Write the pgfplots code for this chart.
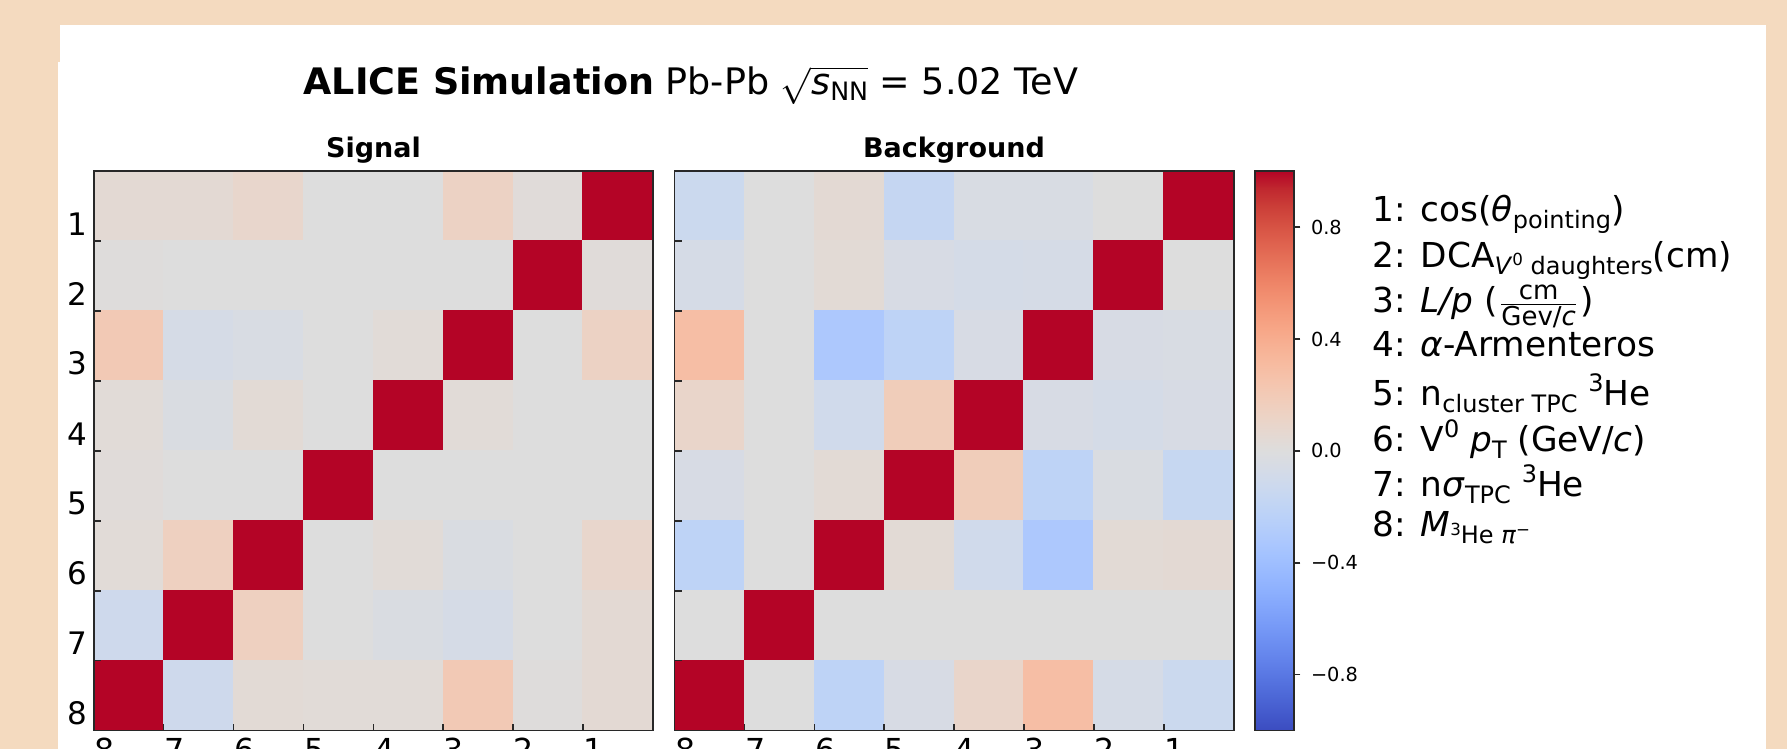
\documentclass[border=0pt]{standalone}
\usepackage{fontspec}
\setmainfont{DejaVu Sans}
\usepackage{pgfplots}
\pgfplotsset{compat=1.18}
\usepackage{pgfplotstable}
\definecolor{peach}{RGB}{244,218,191}
\definecolor{frame}{RGB}{40,40,40}
\pgfplotsset{colormap={coolwarm}{
rgb255(0cm)=(59,76,192) rgb255(1cm)=(68,90,204) rgb255(2cm)=(77,104,215) rgb255(3cm)=(87,117,225)
rgb255(4cm)=(98,130,234) rgb255(5cm)=(108,142,241) rgb255(6cm)=(119,154,247) rgb255(7cm)=(130,165,251)
rgb255(8cm)=(141,176,254) rgb255(9cm)=(152,185,255) rgb255(10cm)=(163,194,255) rgb255(11cm)=(174,201,253)
rgb255(12cm)=(184,208,249) rgb255(13cm)=(194,213,244) rgb255(14cm)=(204,217,238) rgb255(15cm)=(213,219,230)
rgb255(16cm)=(221,221,221) rgb255(17cm)=(229,216,209) rgb255(18cm)=(236,211,197) rgb255(19cm)=(241,204,185)
rgb255(20cm)=(245,196,173) rgb255(21cm)=(247,187,160) rgb255(22cm)=(247,177,148) rgb255(23cm)=(247,166,135)
rgb255(24cm)=(244,154,123) rgb255(25cm)=(241,141,111) rgb255(26cm)=(236,127,99) rgb255(27cm)=(229,112,88)
rgb255(28cm)=(222,96,77) rgb255(29cm)=(213,80,66) rgb255(30cm)=(203,62,56) rgb255(31cm)=(192,40,47)
rgb255(32cm)=(180,4,38)}}

% x = column index (0 -> label 8, 7 -> label 1), y = row index (0 -> row 1)
\pgfplotstableread{
x y c
0 0 0.05
1 0 0.05
2 0 0.09
3 0 0.00
4 0 0.00
5 0 0.13
6 0 0.02
7 0 1
0 1 0.01
1 1 0.00
2 1 0.00
3 1 0.00
4 1 0.00
5 1 0.00
6 1 1
7 1 0.02
0 2 0.21
1 2 -0.06
2 2 -0.04
3 2 0.00
4 2 0.03
5 2 1
6 2 0.00
7 2 0.13
0 3 0.03
1 3 -0.03
2 3 0.04
3 3 0.00
4 3 1
5 3 0.03
6 3 0.00
7 3 0.00
0 4 0.02
1 4 0.00
2 4 0.00
3 4 1
4 4 0.00
5 4 0.00
6 4 0.00
7 4 0.00
0 5 0.03
1 5 0.15
2 5 1
3 5 0.00
4 5 0.03
5 5 -0.03
6 5 0.00
7 5 0.09
0 6 -0.11
1 6 1
2 6 0.15
3 6 0.00
4 6 -0.03
5 6 -0.06
6 6 0.00
7 6 0.05
0 7 1
1 7 -0.11
2 7 0.04
3 7 0.03
4 7 0.03
5 7 0.21
6 7 0.01
7 7 0.05
}\sigtab

\pgfplotstableread{
x y c
0 0 -0.13
1 0 0.00
2 0 0.05
3 0 -0.17
4 0 -0.04
5 0 -0.04
6 0 0.00
7 0 1
0 1 -0.06
1 1 0.00
2 1 0.04
3 1 -0.05
4 1 -0.07
5 1 -0.06
6 1 1
7 1 0.00
0 2 0.29
1 2 0.00
2 2 -0.32
3 2 -0.21
4 2 -0.05
5 2 1
6 2 -0.05
7 2 -0.04
0 3 0.10
1 3 0.00
2 3 -0.10
3 3 0.18
4 3 1
5 3 -0.05
6 3 -0.07
7 3 -0.05
0 4 -0.05
1 4 0.00
2 4 0.04
3 4 1
4 4 0.18
5 4 -0.21
6 4 -0.03
7 4 -0.16
0 5 -0.21
1 5 0.00
2 5 1
3 5 0.04
4 5 -0.10
5 5 -0.32
6 5 0.04
7 5 0.05
0 6 0.00
1 6 1
2 6 0.00
3 6 0.00
4 6 0.00
5 6 0.00
6 6 0.00
7 6 0.00
0 7 1
1 7 0.00
2 7 -0.21
3 7 -0.05
4 7 0.10
5 7 0.29
6 7 -0.06
7 7 -0.13
}\bkgtab

\pgfplotsset{mat/.style={
  width=167.8pt, height=167.8pt, scale only axis,
  xmin=-0.5, xmax=7.5, ymin=-0.5, ymax=7.5, y dir=reverse,
  enlargelimits=false, axis on top,
  colormap name=coolwarm, point meta min=-1, point meta max=1,
  xtick={-0.5,0.5,...,6.5}, xticklabels={8,7,6,5,4,3,2,1},
  ytick={0.5,1.5,...,7.5},
  xtick pos=bottom, ytick pos=left, tick align=inside,
  major tick length=2.1pt,
  tick style={frame, line width=0.5pt},
  axis line style={frame, line width=0.55pt},
  xticklabel style={anchor=north west, inner sep=0pt, yshift=-2.1pt, font=\fontsize{9.5}{11}\selectfont},
  yticklabel style={anchor=south east, inner sep=0pt, xshift=-1.8pt, yshift=1.5pt, font=\fontsize{9.3}{11}\selectfont},
}}

\newcommand\lsub[1]{\raisebox{-2.1pt}{\fontsize{7.2}{8}\selectfont #1}}
\newcommand\lsup[1]{\raisebox{4.3pt}{\fontsize{7.2}{8}\selectfont #1}}
\newcommand\ssup[1]{\raisebox{2.6pt}{\fontsize{5}{6}\selectfont #1}}

\begin{document}
\begin{tikzpicture}[x=0.3pt,y=0.3pt]
\fill[peach] (0,0) rectangle (1787,749);
\fill[white] (60,724) rectangle (1766,686);
\fill[white] (58,0) rectangle (1766,687);
\coordinate (sigSW) at (93.7,18.5);
\coordinate (bkgSW) at (674.5,18.5);

\begin{axis}[mat, at={(sigSW)}, anchor=south west,
  yticklabels={1,2,3,4,5,6,7,8}]
\addplot[matrix plot*, mesh/cols=8, point meta=explicit] table[x=x,y=y,meta=c]{\sigtab};
\end{axis}

\begin{axis}[mat, at={(bkgSW)}, anchor=south west,
  yticklabels={,,,,,,,},
  colorbar,
  colorbar shift/.style={xshift=0pt},
  colorbar style={
    at={(parent axis.south east)}, anchor=south west, xshift=6.3pt,
    width=11.85pt, height=167.8pt, scale only axis,
    ytick={-0.8,-0.4,0,0.4,0.8},
    yticklabels={−0.8,−0.4,0.0,0.4,0.8},
    ytick pos=right, yticklabel pos=right,
    tick align=outside, major tick length=1.8pt,
    tick style={frame, line width=0.5pt},
    axis line style={frame, line width=0.55pt},
    yticklabel style={anchor=west, inner sep=0pt, xshift=3pt, font=\fontsize{5.8}{7}\selectfont},
  }]
\addplot[matrix plot*, mesh/cols=8, point meta=explicit] table[x=x,y=y,meta=c]{\bkgtab};
\end{axis}

\node[anchor=base, inner sep=0pt, font=\fontsize{10.95}{13}\selectfont] at (691,654.5)
  {\textbf{ALICE Simulation} Pb-Pb $\sqrt{\mbox{\textit{s}\raisebox{-1.9pt}{\fontsize{7.6}{9}\selectfont NN}}}$ = 5.02 TeV};
\node[anchor=base, inner sep=0pt, font={\fontsize{8.1}{10}\selectfont\bfseries}] at (373.5,591) {Signal};
\node[anchor=base, inner sep=0pt, font={\fontsize{8.1}{10}\selectfont\bfseries}] at (954,591) {Background};

\begin{scope}[every node/.style={anchor=base west, inner sep=0pt, font=\fontsize{10.3}{12}\selectfont}]
\node at (1372,527.3) {1: cos(\textit{θ}\lsub{pointing})};
\node at (1372,481.7) {2: DCA\lsub{\textit{V}\ssup{0} daughters}(cm)};
\node at (1372,436) {3: \textit{L/p} ($\frac{\mbox{\fontsize{7.8}{9}\selectfont cm}}{\mbox{\fontsize{7.8}{9}\selectfont Gev/\textit{c}}}$)};
\node at (1372,392.3) {4: \textit{α}-Armenteros};
\node at (1372,343) {5: n\lsub{cluster TPC} \lsup{3}He};
\node at (1372,297.3) {6: V\lsup{0} \textit{p}\lsub{T} (GeV/\textit{c})};
\node at (1372,252.3) {7: n\textit{σ}\lsub{TPC} \lsup{3}He};
\node at (1372,212.3) {8: \textit{M}\lsub{\ssup{3}He \textit{π}\ssup{−}}};
\end{scope}

\pgfresetboundingbox
\path[use as bounding box] (0,0) rectangle (1787,749);
\end{tikzpicture}
\end{document}
